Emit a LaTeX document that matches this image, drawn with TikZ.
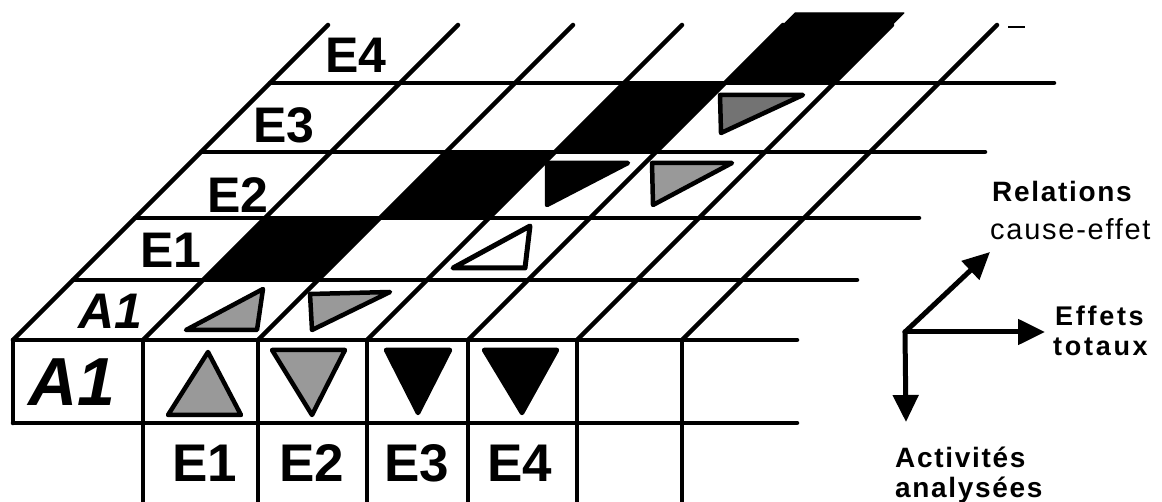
\documentclass[tikz,border=0pt]{standalone}
\usepackage{fontspec}
\setmainfont{Liberation Sans}
\newfontfamily\lgdfont[LetterSpace=6]{Liberation Sans}
\newfontfamily\lgdwidefont[LetterSpace=10]{Liberation Sans}
\usepackage{tikz}
\usetikzlibrary{arrows.meta, calc}
\tikzset{
    gridline/.style={draw=black, line width=4.5pt, line cap=round},
    blackcell/.style={fill=black, draw=black, line width=1pt, line join=round},
    tri_gray/.style={draw=black, line width=4.5pt, line join=round, fill=black!40},
    tri_dark/.style={draw=black, line width=4.5pt, line join=round, fill=black!55},
    tri_black/.style={draw=black, line width=4.5pt, line join=round, fill=black},
    tri_white/.style={draw=black, line width=5pt, line join=round, fill=white},
    lbl_ob/.style={inner sep=0pt, font=\fontsize{50}{52}\selectfont\bfseries},
    lbl_col/.style={inner sep=0pt, font=\fontsize{53}{55}\selectfont\bfseries},
    lbl_a_big/.style={inner sep=0pt, font=\fontsize{68}{70}\selectfont\bfseries\itshape},
    lbl_a_ob/.style={inner sep=0pt, font=\fontsize{50}{52}\selectfont\bfseries\itshape},
    lbl_axis/.style={anchor=base west, inner sep=0pt, font=\lgdfont\fontsize{28}{30}\selectfont\bfseries},
    lbl_axis_reg/.style={anchor=base west, inner sep=0pt, font=\lgdfont\fontsize{29}{30}\selectfont},
    lbl_axis_sm/.style={anchor=base west, inner sep=0pt, font=\lgdwidefont\fontsize{27}{28}\selectfont\bfseries},
    axis_arrow/.style={-{Triangle[length=27pt,width=25pt]}, line width=5pt, line cap=round}
}

\begin{document}
\begin{tikzpicture}[x=1pt, y=-1pt]
    \useasboundingbox (0,0) rectangle (1162,502);

    % diagonal of black cells on the oblique face
    \fill[blackcell] (203,280) -- (318,280) -- (380,218) -- (265,218) -- cycle;
    \fill[blackcell] (380,218) -- (489,218) -- (555,152) -- (446,152) -- cycle;
    \fill[blackcell] (555,152) -- (656,152) -- (725,83) -- (624,83) -- cycle;
    \fill[blackcell] (725,83) -- (834,83) -- (904,13) -- (795,13) -- cycle;

    % horizontal lines
    \draw[gridline] (13,340) -- (797,340);
    \draw[gridline] (13,423) -- (797,423);
    \foreach \yy/\xs in {280/73, 218/135, 152/201, 83/270}
        \draw[gridline] (\xs,\yy) -- ({1137-\yy},\yy);

    % slanted lines
    \foreach \xx in {13,143,258,367,468,577,682}
        \draw[gridline] (\xx,340) -- ({\xx+315},25);

    % vertical lines of the front row and the columns below
    \foreach \xx in {13,143,258,367,468,577,682}
        \draw[gridline] (\xx,340) -- (\xx,423);
    \foreach \xx in {143,258,367,468,577,682}
        \draw[gridline] (\xx,423) -- (\xx,510);
    \draw[line width=2pt] (1008,27) -- (1025,27);

    % front row triangles
    \filldraw[tri_gray] (208,352) -- (168,415) -- (241,415) -- cycle;
    \filldraw[tri_gray] (272,350) -- (345,350) -- (312,415) -- cycle;
    \filldraw[tri_black] (386,350) -- (450,350) -- (418,413) -- cycle;
    \filldraw[tri_black] (484,350) -- (557,350) -- (522,413) -- cycle;

    % oblique face triangles
    \filldraw[tri_gray] (186,330) -- (257,330) -- (263,289) -- cycle;
    \filldraw[tri_gray] (310,294) -- (390,292) -- (312,330) -- cycle;
    \filldraw[tri_white] (453,268) -- (525,268) -- (530,226) -- cycle;
    \filldraw[tri_black] (547,163) -- (628,163) -- (547,205) -- cycle;
    \filldraw[tri_gray] (652,163) -- (732,163) -- (653,205) -- cycle;
    \filldraw[tri_dark] (720,95) -- (803,95) -- (721,133) -- cycle;

    % row labels
    \node[lbl_a_big] (front_a1) at (72,382) {A1};
    \node[lbl_a_ob] (ob_a1) at (110,311) {A1};
    \node[lbl_ob] (ob_e1) at (171,250) {E1};
    \node[lbl_ob] (ob_e2) at (238,195) {E2};
    \node[lbl_ob] (ob_e3) at (284,125) {E3};
    \node[lbl_ob] (ob_e4) at (356,55) {E4};

    % column labels
    \foreach \xx/\tt in {205/E1, 312/E2, 417/E3, 520/E4}
        \node[lbl_col] (col_\tt) at (\xx,463) {\tt};

    % axes
    \coordinate (ax_o) at (905,332);
    \coordinate (ax_rel) at (990,252);
    \coordinate (ax_eff) at (1045,332);
    \coordinate (ax_act) at (906,422);
    \draw[axis_arrow] (ax_o) -- (ax_rel);
    \draw[axis_arrow] (ax_o) -- (ax_eff);
    \draw[axis_arrow] (ax_o) -- (ax_act);

    \node[lbl_axis] (rel_1) at (992,202) {Relations};
    \node[lbl_axis_reg] (rel_2) at (990,240) {cause-effet};
    \node[lbl_axis_sm] (eff_1) at (1055,326) {Effets};
    \node[lbl_axis_sm] (eff_2) at (1053,356) {totaux};
    \node[lbl_axis] (act_1) at (895,467) {Activités};
    \node[lbl_axis] (act_2) at (895,497) {analysées};

\end{tikzpicture}
\end{document}
